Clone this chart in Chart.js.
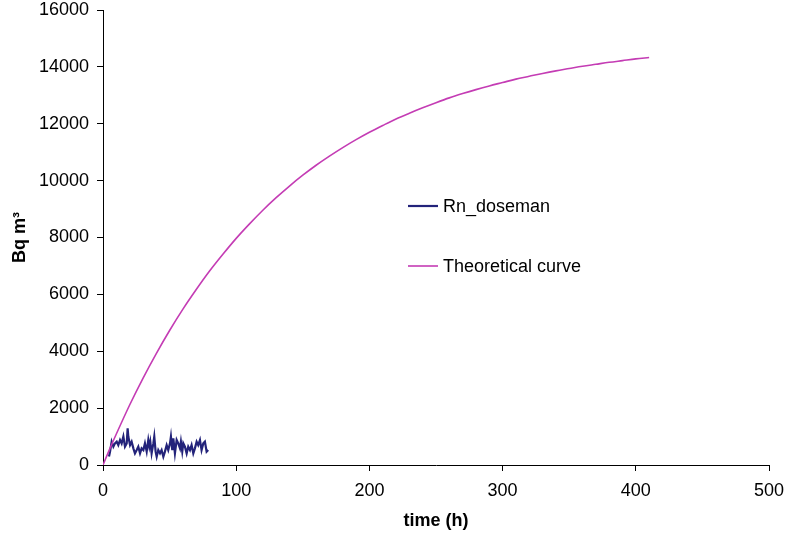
<!DOCTYPE html>
<html>
<head>
<meta charset="utf-8">
<title>Radon concentration vs time</title>
<script src="https://cdn.jsdelivr.net/npm/chart.js@4/dist/chart.umd.min.js"></script>
<style>
    html, body { margin: 0; padding: 0; background: #fff; }
    canvas { display: block; }
</style>
</head>
<body>
<canvas id="radonChart" width="789" height="537"></canvas>
<script>
// Rn_doseman measurements (hours, Bq m-3)
const doseHours = [4.5, 5.3, 6.5, 7.8, 9.0, 10.3, 11.5, 12.8, 14.0, 15.3, 16.5, 17.8, 18.5, 19.0, 20.3,
    21.5, 22.8, 24.0, 25.3, 26.5, 27.8, 29.0, 30.3, 31.5, 32.8, 34.0, 34.8, 35.5, 36.5, 37.8,
    38.5, 39.5, 40.3, 41.5, 42.8, 44.0, 45.3, 46.5, 47.8, 49.0, 50.3, 51.0, 52.0, 52.8, 54.0,
    55.3, 56.5, 57.8, 58.5, 59.5, 60.3, 61.5, 62.8, 64.0, 65.3, 66.5, 67.8, 69.0, 70.3, 71.5,
    72.8, 74.0, 75.3, 76.5, 77.8, 79.0];
const doseValues = [300, 470, 820, 645, 760, 820, 700, 880, 760, 1000, 645, 760, 1290, 1000, 700,
    820, 585, 410, 525, 645, 410, 585, 525, 760, 470, 880, 645, 820, 410, 760,
    1000, 470, 290, 525, 410, 525, 290, 470, 700, 525, 760, 1000, 525, 940, 410,
    880, 760, 585, 820, 470, 760, 645, 410, 645, 525, 700, 410, 585, 820, 700,
    880, 525, 760, 820, 470, 525];

// Theoretical build-up curve
const curveHours = [0, 5, 10, 20, 30, 40, 50, 60, 70, 80, 90, 100, 110, 120, 130, 140, 150, 160,
    170, 180, 190, 200, 210, 220, 230, 240, 250, 260, 270, 280, 290, 300, 310, 320, 330, 340,
    350, 360, 370, 380, 390, 400, 410];
const curveValues = [0, 560, 1090, 2110, 3050, 3920, 4730, 5480, 6170, 6820, 7410, 7970, 8480,
    8960, 9400, 9810, 10190, 10540, 10860, 11160, 11440, 11700, 11940, 12170, 12370, 12560,
    12740, 12910, 13060, 13200, 13330, 13450, 13570, 13670, 13770, 13860, 13940, 14020, 14090,
    14160, 14220, 14280, 14330];

const seriesNames = ['Rn_doseman', 'Theoretical curve'];
const seriesColors = ['#23237a', '#c43cb4'];

const FONT = '"Liberation Sans", Arial, sans-serif';
Chart.defaults.font.family = FONT;
Chart.defaults.color = '#000';

function toPoints(xs, ys) {
    return xs.map((x, i) => ({ x: x, y: ys[i] }));
}

// Legend box sits inside the plot, like the original worksheet chart
const innerLegend = {
    id: 'innerLegend',
    afterDatasetsDraw(chart) {
        const ctx = chart.ctx;
        const area = chart.chartArea;
        const x0 = area.left + 305;
        const rows = [area.top + 196, area.top + 256];
        ctx.save();
        ctx.font = '18px ' + FONT;
        ctx.textBaseline = 'middle';
        chart.data.datasets.forEach((ds, i) => {
            const y = rows[i];
            ctx.strokeStyle = ds.borderColor;
            ctx.lineWidth = ds.borderWidth;
            ctx.beginPath();
            ctx.moveTo(x0, y);
            ctx.lineTo(x0 + 30, y);
            ctx.stroke();
            ctx.fillStyle = '#000';
            ctx.fillText(ds.label, x0 + 35, y + 1);
        });
        ctx.restore();
    }
};

// plain integers, no thousands separator
const plainTick = value => String(value);

new Chart(document.getElementById('radonChart'), {
    type: 'scatter',
    data: {
        datasets: [
            {
                label: seriesNames[0],
                data: toPoints(doseHours, doseValues),
                showLine: true,
                borderColor: seriesColors[0],
                borderWidth: 2.2,
                pointRadius: 0,
                tension: 0,
                order: 1
            },
            {
                label: seriesNames[1],
                data: toPoints(curveHours, curveValues),
                showLine: true,
                borderColor: seriesColors[1],
                borderWidth: 1.6,
                pointRadius: 0,
                cubicInterpolationMode: 'monotone',
                order: 0
            }
        ]
    },
    options: {
        responsive: false,
        animation: false,
        layout: { padding: { top: 10, right: 20, left: 0, bottom: 0 } },
        plugins: {
            legend: { display: false },
            tooltip: { enabled: false }
        },
        scales: {
            x: {
                type: 'linear',
                min: 0,
                max: 500,
                ticks: { stepSize: 100, padding: 9, font: { size: 18 }, callback: plainTick },
                grid: { drawOnChartArea: false, tickLength: 6, color: '#000' },
                border: { color: '#000', width: 1 },
                title: {
                    display: true,
                    text: 'time (h)',
                    font: { size: 18, weight: 'bold' },
                    padding: { top: 0, bottom: 5 }
                },
                afterFit: scale => {
                    scale.height = 72;
                    scale.paddingLeft = 0;
                    scale.paddingRight = 0;
                }
            },
            y: {
                type: 'linear',
                min: 0,
                max: 16000,
                ticks: { stepSize: 2000, padding: 8, font: { size: 18 }, callback: plainTick },
                grid: { drawOnChartArea: false, tickLength: 6, color: '#000' },
                border: { color: '#000', width: 1 },
                title: {
                    display: true,
                    text: 'Bq m³',
                    font: { size: 18, weight: 'bold' },
                    padding: { top: 9, bottom: 0 }
                },
                afterFit: scale => {
                    scale.width = 103;
                    scale.paddingTop = 0;
                    scale.paddingBottom = 0;
                }
            }
        }
    },
    plugins: [innerLegend]
});
</script>
</body>
</html>
